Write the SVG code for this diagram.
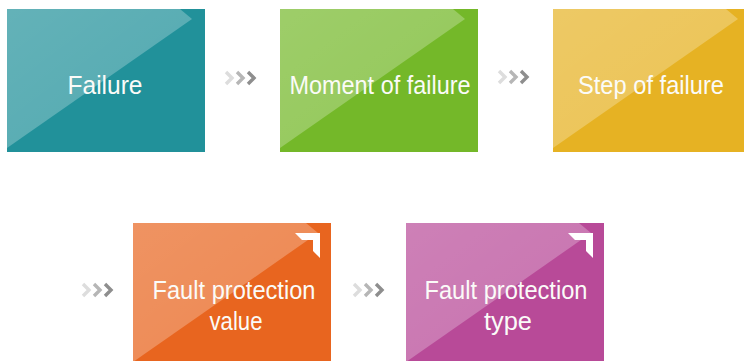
<svg xmlns="http://www.w3.org/2000/svg" width="744" height="361" viewBox="0 0 744 361">
  <defs>
    <linearGradient id="gloss" x1="0" y1="0" x2="1" y2="1">
      <stop offset="0" stop-color="#ffffff" stop-opacity="0.3"/>
      <stop offset="1" stop-color="#ffffff" stop-opacity="0.22"/>
    </linearGradient>
    <polygon id="hl" points="0,0 173,0 185,10 0,139"/>
    <polygon id="corner" points="162,10 187,10 187,35 180,28 180,17 169,17"/>
    <g id="chev" fill="none" stroke-width="3.4">
      <polyline points="0,0 6,6 0,12" stroke="#dddddd"/>
      <polyline points="11,0 17,6 11,12" stroke="#b6b6b6"/>
      <polyline points="22,0 28,6 22,12" stroke="#8e8e8e"/>
    </g>
  </defs>
  <style>
    .lbl { font-family: "Liberation Sans", Arial, sans-serif; font-size: 26px; fill: #fbfbf8; text-anchor: middle; }
    .gl { fill: url(#gloss); }
    .ic { fill: #ffffff; }
  </style>

  <g id="node-failure">
    <rect x="7" y="9" width="198" height="143" fill="#21919a"/>
    <use href="#hl" x="7" y="9" class="gl"/>
    <text class="lbl" x="105" y="94" textLength="75" lengthAdjust="spacingAndGlyphs">Failure</text>
  </g>

  <g id="node-moment">
    <rect x="280" y="9" width="198" height="143" fill="#74b829"/>
    <use href="#hl" x="280" y="9" class="gl"/>
    <text class="lbl" x="380" y="94" textLength="181" lengthAdjust="spacingAndGlyphs">Moment of failure</text>
  </g>

  <g id="node-step">
    <rect x="553" y="9" width="198" height="143" fill="#e6b223"/>
    <use href="#hl" x="553" y="9" class="gl"/>
    <text class="lbl" x="651" y="94" textLength="146" lengthAdjust="spacingAndGlyphs">Step of failure</text>
  </g>

  <g id="node-value">
    <rect x="133" y="223" width="198" height="143" fill="#e8651f"/>
    <use href="#hl" x="133" y="223" class="gl"/>
    <use href="#corner" x="133" y="223" class="ic"/>
    <text class="lbl" x="234" y="299" textLength="163" lengthAdjust="spacingAndGlyphs">Fault protection</text>
    <text class="lbl" x="236" y="330" textLength="53" lengthAdjust="spacingAndGlyphs">value</text>
  </g>

  <g id="node-type">
    <rect x="406" y="223" width="198" height="143" fill="#b84a98"/>
    <use href="#hl" x="406" y="223" class="gl"/>
    <use href="#corner" x="406" y="223" class="ic"/>
    <text class="lbl" x="506" y="299" textLength="163" lengthAdjust="spacingAndGlyphs">Fault protection</text>
    <text class="lbl" x="508" y="330" textLength="48" lengthAdjust="spacingAndGlyphs">type</text>
  </g>

  <g id="connectors">
    <use href="#chev" x="226" y="72"/>
    <use href="#chev" x="499" y="71"/>
    <use href="#chev" x="83" y="284"/>
    <use href="#chev" x="354" y="284"/>
  </g>
</svg>
